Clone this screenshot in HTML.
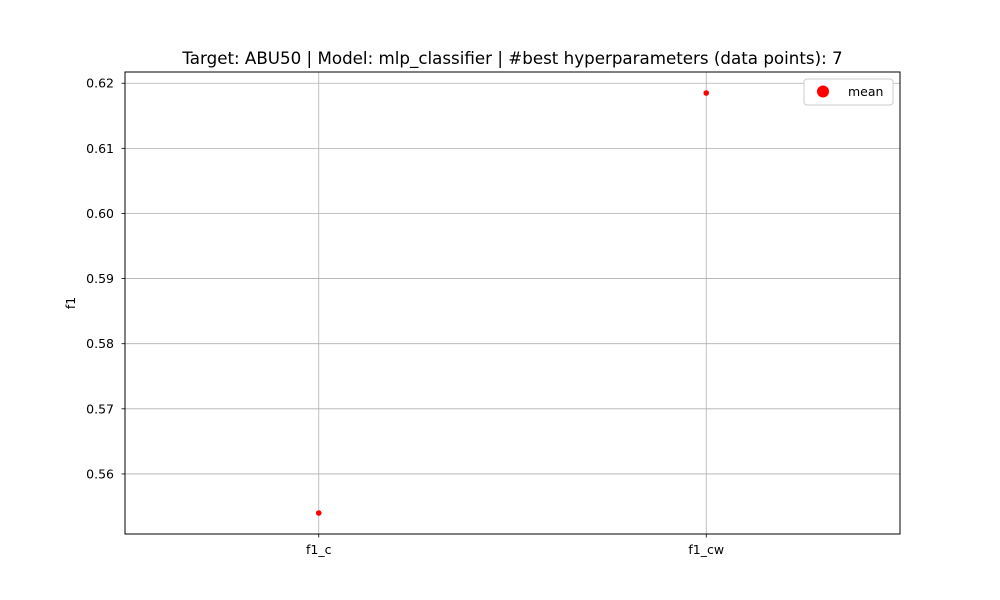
<!DOCTYPE html>
<html>
<head>
<meta charset="utf-8">
<style>
  html, body { margin: 0; padding: 0; background: #fff; }
  svg { display: block; font-family: "DejaVu Sans", "Liberation Sans", sans-serif; }
</style>
</head>
<body>
<svg id="chart" width="1000" height="600" viewBox="0 0 1000 600">
  <rect x="0" y="0" width="1000" height="600" fill="#fff"/>
  <g id="grid"></g>
  <g id="marks"></g>
  <rect x="125" y="72" width="775" height="462" fill="none" stroke="#000" stroke-width="1"/>
  <g id="axes"></g>
  <text x="512.5" y="64" text-anchor="middle" font-size="16.7" fill="#000">Target: ABU50 | Model: mlp_classifier | #best hyperparameters (data points): 7</text>
  <text transform="translate(75,303) rotate(-90)" text-anchor="middle" font-size="12.5" fill="#000">f1</text>
  <g>
    <rect x="804" y="79" width="89" height="26" rx="3" fill="#fff" stroke="#ccc"/>
    <circle cx="823" cy="91.5" r="6" fill="#ff0000"/>
    <text x="848" y="96" font-size="12.5" fill="#000">mean</text>
  </g>
</svg>
<script>
const categories = ["f1_c", "f1_cw"];
const meanValues = [0.5540, 0.6185];
const yTicks = [0.56, 0.57, 0.58, 0.59, 0.60, 0.61, 0.62];
const yTickLabels = ["0.56", "0.57", "0.58", "0.59", "0.60", "0.61", "0.62"];

const L = 125, R = 900, T = 72, B = 534;
const NS = "http://www.w3.org/2000/svg";
const vmin = Math.min(...meanValues), vmax = Math.max(...meanValues);
const pad = (vmax - vmin) * 0.05;
const y0 = vmin - pad, y1 = vmax + pad;
const x0 = -0.5, x1 = categories.length - 0.5;
function xs(i) { return L + (i - x0) / (x1 - x0) * (R - L); }
function ys(v) { return B - (v - y0) / (y1 - y0) * (B - T); }

const grid = document.getElementById('grid');
const axes = document.getElementById('axes');
const marks = document.getElementById('marks');
function mk(tag, attrs, parent) {
  const e = document.createElementNS(NS, tag);
  for (const k in attrs) e.setAttribute(k, attrs[k]);
  parent.appendChild(e);
  return e;
}

yTicks.forEach((t, i) => {
  const y = ys(t);
  const g = mk('line', {x1: L, x2: R, y1: y, y2: y, stroke: '#b0b0b0', 'stroke-width': 0.8}, grid);
  
  
  const tk = mk('line', {x1: L - 3.5, x2: L, y1: y, y2: y, stroke: '#000', 'stroke-width': 0.8}, axes);
  
  
  const tx = mk('text', {x: L - 11, y: y + 4.5, 'text-anchor': 'end', 'font-size': 12.5, fill: '#000'}, axes);
  tx.textContent = yTickLabels[i];
  
  
});

categories.forEach((c, i) => {
  const x = xs(i);
  const g = mk('line', {x1: x, x2: x, y1: T, y2: B, stroke: '#b0b0b0', 'stroke-width': 0.8}, grid);
  
  
  const tk = mk('line', {x1: x, x2: x, y1: B, y2: B + 3.5, stroke: '#000', 'stroke-width': 0.8}, axes);
  
  
  const tx = mk('text', {x: x, y: B + 20, 'text-anchor': 'middle', 'font-size': 12.5, fill: '#000'}, axes);
  tx.textContent = c;
  
  
  const p = mk('circle', {cx: x, cy: ys(meanValues[i]), r: 2.8, fill: '#ff0000'}, marks);
  
  
});
</script>
</body>
</html>
